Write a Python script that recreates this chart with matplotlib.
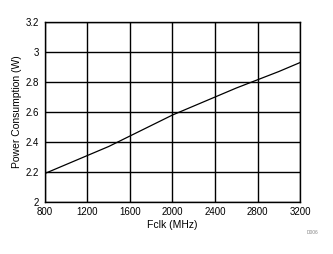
import matplotlib
matplotlib.use('Agg')
import matplotlib.pyplot as plt

# Fclk in MHz vs power in W
fclk = [800, 1000, 1200, 1400, 1600, 1800, 2000, 2200, 2400, 2600, 2800, 3000, 3200]
power = [2.19, 2.25, 2.31, 2.37, 2.44, 2.51, 2.58, 2.64, 2.70, 2.76, 2.815, 2.87, 2.93]
xticks = [800, 1200, 1600, 2000, 2400, 2800, 3200]
yticks = [2, 2.2, 2.4, 2.6, 2.8, 3, 3.2]

plt.rcParams['font.family'] = ['Liberation Sans', 'DejaVu Sans']

fig = plt.figure(figsize=(3.33, 2.54), dpi=100)
ax = fig.add_axes([0.135, 0.205, 0.766, 0.708])
ax.plot(fclk, power, color='black', linewidth=0.9)

ax.set_xlim(800, 3200)
ax.set_ylim(2, 3.2)
ax.set_xticks(xticks)
ax.set_yticks(yticks)
ax.set_yticklabels(['2', '2.2', '2.4', '2.6', '2.8', '3', '3.2'])
ax.grid(True, color='black', linewidth=1)
ax.tick_params(length=0, labelsize=7, pad=4)
for s in ax.spines.values():
    s.set_linewidth(1)

ax.set_xlabel('Fclk (MHz)', fontsize=7.5, labelpad=2)
ax.set_ylabel('Power Consumption (W)', fontsize=7.5, labelpad=3)
fig.text(0.955, 0.08, 'D006', fontsize=3.5, color='#888888', ha='right')

fig.savefig('out.png', dpi=100)
